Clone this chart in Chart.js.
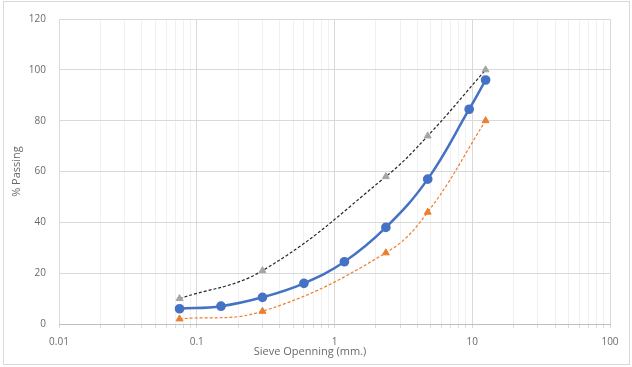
<!DOCTYPE html>
<html>
<head>
<meta charset="utf-8">
<script src="https://cdn.jsdelivr.net/npm/chart.js@4"></script>
<style>
  html,body{margin:0;padding:0;background:#fff;}
  #wrap{position:relative;width:632px;height:367px;}
  #frame{position:absolute;left:3px;top:1px;width:625px;height:362px;border:1px solid #d9d9d9;}
  #chart{position:absolute;left:0;top:0;}
</style>
</head>
<body>
<div id="wrap">
  <div id="frame"></div>
  <canvas id="chart" width="632" height="367"></canvas>
</div>
<script>
/* -------------------- Data -------------------- */
const sieveSample = [0.075, 0.15, 0.3, 0.6, 1.18, 2.36, 4.75, 9.5, 12.5];
const passingSample = [6, 7, 10.5, 16, 24.5, 38, 57, 84.5, 96];

const sieveSpec = [0.075, 0.3, 2.36, 4.75, 12.5];
const passingUpper = [10, 21, 58, 74, 100];
const passingLower = [2, 5, 28, 44, 80];

const xDecades = [0.01, 0.1, 1, 10, 100];
const yMin = 0, yMax = 120, yStep = 20;

const xTitle = 'Sieve Openning (mm.)';
const yTitle = '% Passing';

/* -------------------- Helpers -------------------- */
function toPoints(xs, ys){ return xs.map((x,i)=>({x:x, y:ys[i]})); }
function isDecade(v){ const l=Math.log10(v); return Math.abs(l-Math.round(l))<1e-9; }
function minorTicks(){
  const out=[];
  for(let i=0;i<xDecades.length-1;i++){
    for(let m=1;m<10;m++) out.push(parseFloat((m*xDecades[i]).toPrecision(3)));
  }
  out.push(xDecades[xDecades.length-1]);
  return out;
}

const FONT = '"Open Sans", "Noto Sans", sans-serif';
const TEXT = '#6a6a6a';

// x title drawn by hand so it sits where the reference has it
const xTitlePlugin = {
  id:'xTitle',
  afterDraw(chart){
    const ctx=chart.ctx;
    ctx.save();
    ctx.font='11px '+FONT;
    ctx.fillStyle=TEXT;
    ctx.textAlign='center';
    ctx.textBaseline='middle';
    ctx.fillText(xTitle, 310, 352);
    ctx.restore();
  }
};

new Chart(document.getElementById('chart'), {
  type:'scatter',
  data:{
    datasets:[
      {
        label:'Sample',
        data:toPoints(sieveSample, passingSample),
        showLine:true, tension:0.4,
        borderColor:'#4472C4', backgroundColor:'#4472C4',
        borderWidth:2.5, pointStyle:'circle', pointRadius:3.6, pointHoverRadius:3.6
      },
      {
        label:'Upper',
        data:toPoints(sieveSpec, passingUpper),
        showLine:true, tension:0.4,
        borderColor:'#262626', backgroundColor:'#A5A5A5',
        borderWidth:1.2, borderDash:[3,2],
        pointStyle:'triangle', pointRadius:4, pointBorderColor:'#A5A5A5', pointBorderWidth:1
      },
      {
        label:'Lower',
        data:toPoints(sieveSpec, passingLower),
        showLine:true, tension:0.4,
        borderColor:'#ED7D31', backgroundColor:'#ED7D31',
        borderWidth:1.2, borderDash:[3,2],
        pointStyle:'triangle', pointRadius:4, pointBorderColor:'#ED7D31', pointBorderWidth:1
      }
    ]
  },
  options:{
    responsive:false,
    animation:false,
    layout:{padding:{left:10, top:19, right:22, bottom:5}},
    plugins:{legend:{display:false}, tooltip:{enabled:false}},
    scales:{
      x:{
        type:'logarithmic',
        min:xDecades[0], max:xDecades[xDecades.length-1],
        afterBuildTicks(s){ s.ticks = minorTicks().map(v=>({value:v})); },
        afterFit(s){ s.height = 38; },
        grid:{
          color:c=> isDecade(c.tick.value) ? '#d9d9d9' : '#f0f0f0',
          tickColor:'#d9d9d9',
          tickLength:4, lineWidth:1
        },
        border:{display:true, color:'#bfbfbf'},
        ticks:{
          autoSkip:false, maxRotation:0, padding:8,
          color:TEXT, font:{family:FONT, size:10},
          callback:v=> isDecade(v) ? String(v) : ''
        }
      },
      y:{
        min:yMin, max:yMax,
        afterFit(s){ s.width = 49; },
        grid:{color:'#d9d9d9', drawTicks:false},
        border:{display:false},
        ticks:{stepSize:yStep, padding:13, color:TEXT, font:{family:FONT, size:10}},
        title:{display:true, text:yTitle, color:TEXT, font:{family:FONT, size:11}, padding:{top:0,bottom:4}}
      }
    }
  },
  plugins:[xTitlePlugin]
});
</script>
</body>
</html>
